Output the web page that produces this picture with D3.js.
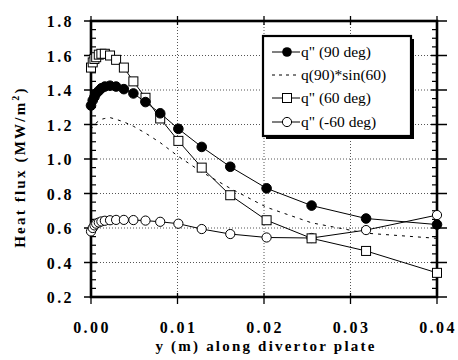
<!DOCTYPE html>
<html><head><meta charset="utf-8">
<script src="https://cdn.jsdelivr.net/npm/d3@7"></script>
<style>
body{margin:0;background:#fff;}
svg{display:block;}
.tick-lab{font-family:"Liberation Serif",serif;font-weight:bold;font-size:16px;letter-spacing:2.4px;fill:#000;}
.title{font-family:"Liberation Serif",serif;font-weight:bold;font-size:15px;letter-spacing:2.2px;fill:#000;}
.leg{font-family:"Liberation Serif",serif;font-size:15.5px;fill:#000;}
</style>
</head><body>
<svg id="c" width="458" height="360"></svg>
<script>
// ---- data ----
const yPos = [0, 0.0002, 0.0004, 0.0006, 0.0009, 0.0012, 0.0016, 0.0022, 0.0029, 0.0038, 0.0049, 0.0063, 0.0080, 0.0101, 0.0128, 0.0161, 0.0203, 0.0255, 0.0318, 0.0400];
const q90  = [1.31, 1.34, 1.36, 1.38, 1.395, 1.41, 1.42, 1.425, 1.42, 1.405, 1.38, 1.33, 1.265, 1.175, 1.07, 0.955, 0.83, 0.73, 0.655, 0.62];
const q90sin60 = [1.17, 1.19, 1.20, 1.21, 1.22, 1.23, 1.235, 1.24, 1.23, 1.215, 1.19, 1.15, 1.095, 1.015, 0.925, 0.83, 0.72, 0.63, 0.57, 0.54];
const q60  = [1.53, 1.56, 1.58, 1.59, 1.605, 1.61, 1.61, 1.60, 1.575, 1.53, 1.45, 1.355, 1.235, 1.105, 0.95, 0.79, 0.645, 0.54, 0.467, 0.34];
const qm60 = [0.58, 0.60, 0.615, 0.625, 0.632, 0.638, 0.642, 0.645, 0.647, 0.647, 0.646, 0.643, 0.636, 0.625, 0.594, 0.565, 0.545, 0.542, 0.588, 0.675];
const xTicks = [0.00, 0.01, 0.02, 0.03, 0.04];
const yTicks = [0.2, 0.4, 0.6, 0.8, 1.0, 1.2, 1.4, 1.6, 1.8];
const legendLabels = ['q" (90 deg)', 'q(90)*sin(60)', 'q" (60 deg)', 'q" (-60 deg)'];
const xTitle = "y (m) along divertor plate";

// ---- layout ----
const L = 91, R = 437, T = 21, B = 297;
const svg = d3.select("#c");
const x = d3.scaleLinear().domain([0, 0.04]).range([L, R]);
const y = d3.scaleLinear().domain([0.2, 1.8]).range([B, T]);

// grid (dotted)
const g = svg.append("g");
g.selectAll(".gx").data(xTicks.slice(1, -1)).enter().append("line")
  .attr("x1", d => x(d)).attr("x2", d => x(d)).attr("y1", T).attr("y2", B)
  .attr("stroke", "#555").attr("stroke-width", 1).attr("stroke-dasharray", "1,2");
g.selectAll(".gy").data(yTicks.slice(1, -1)).enter().append("line")
  .attr("y1", d => y(d)).attr("y2", d => y(d)).attr("x1", L).attr("x2", R)
  .attr("stroke", "#555").attr("stroke-width", 1).attr("stroke-dasharray", "1,2");

// minor y ticks every 0.05
const minorY = d3.range(0.25, 1.8, 0.05).filter(v => Math.abs(Math.round(v * 5) - v * 5) > 0.01);
svg.selectAll(".my").data(minorY).enter().append("line")
  .attr("x1", L).attr("x2", L + 5).attr("y1", d => y(d)).attr("y2", d => y(d))
  .attr("stroke", "#000").attr("stroke-width", 1.2);
svg.selectAll(".myr").data(minorY).enter().append("line")
  .attr("x1", R - 5).attr("x2", R).attr("y1", d => y(d)).attr("y2", d => y(d))
  .attr("stroke", "#000").attr("stroke-width", 1.2);
// major y ticks
svg.selectAll(".My").data(yTicks).enter().append("line")
  .attr("x1", L - 7).attr("x2", L + 6).attr("y1", d => y(d)).attr("y2", d => y(d))
  .attr("stroke", "#000").attr("stroke-width", 1.5);
svg.selectAll(".Myr").data(yTicks).enter().append("line")
  .attr("x1", R - 6).attr("x2", R + 10).attr("y1", d => y(d)).attr("y2", d => y(d))
  .attr("stroke", "#000").attr("stroke-width", 1.5);
// major x ticks
svg.selectAll(".Mx").data(xTicks).enter().append("line")
  .attr("x1", d => x(d)).attr("x2", d => x(d)).attr("y1", B - 4).attr("y2", B + 7)
  .attr("stroke", "#000").attr("stroke-width", 1.3);
svg.selectAll(".Mxt").data(xTicks).enter().append("line")
  .attr("x1", d => x(d)).attr("x2", d => x(d)).attr("y1", T - 5).attr("y2", T + 4)
  .attr("stroke", "#000").attr("stroke-width", 1.3);

// frame
svg.append("rect").attr("x", L).attr("y", T).attr("width", R - L).attr("height", B - T)
  .attr("fill", "none").attr("stroke", "#000").attr("stroke-width", 2.6);

// tick labels
svg.selectAll(".yl").data(yTicks).enter().append("text").attr("class", "tick-lab")
  .attr("x", 74).attr("y", d => y(d) + 6).attr("text-anchor", "end").text(d => d.toFixed(1));
svg.selectAll(".xl").data(xTicks).enter().append("text").attr("class", "tick-lab")
  .attr("x", d => x(d) + 1).attr("y", 333).attr("text-anchor", "middle").text(d => d.toFixed(2));

// titles
svg.append("text").attr("class", "title").attr("x", 266).attr("y", 351)
  .attr("text-anchor", "middle").text(xTitle);
const yt = svg.append("text").attr("class", "title")
  .attr("transform", "translate(25,167) rotate(-90)").attr("text-anchor", "middle");
yt.append("tspan").text("Heat flux (MW/m");
yt.append("tspan").attr("dy", -6).attr("font-size", "10px").text("2");
yt.append("tspan").attr("dy", 6).text(")");

// series
const pts = vals => yPos.map((p, i) => [p, vals[i]]);
const line = d3.line().x(d => x(d[0])).y(d => y(d[1]));
const lineG = svg.append("g");
lineG.append("path").datum(pts(q90sin60)).attr("d", line).attr("fill", "none")
  .attr("stroke", "#000").attr("stroke-width", 1).attr("stroke-dasharray", "3,5");
[qm60, q60, q90].forEach(s => {
  lineG.append("path").datum(pts(s)).attr("d", line).attr("fill", "none")
    .attr("stroke", "#000").attr("stroke-width", 1);
});
const mk = svg.append("g");
mk.selectAll(".cm").data(pts(qm60)).enter().append("circle")
  .attr("cx", d => x(d[0])).attr("cy", d => y(d[1])).attr("r", 4.6)
  .attr("fill", "#fff").attr("stroke", "#000").attr("stroke-width", 1);
mk.selectAll(".sq").data(pts(q60)).enter().append("rect")
  .attr("x", d => x(d[0]) - 4.5).attr("y", d => y(d[1]) - 4.5).attr("width", 9).attr("height", 9)
  .attr("fill", "#fff").attr("stroke", "#000").attr("stroke-width", 1);
mk.selectAll(".cf").data(pts(q90)).enter().append("circle")
  .attr("cx", d => x(d[0])).attr("cy", d => y(d[1])).attr("r", 4.8)
  .attr("fill", "#000").attr("stroke", "#000").attr("stroke-width", 1);

// legend
const lx = 263, ly = 36, lw = 148, lh = 100;
svg.append("rect").attr("x", lx + 3).attr("y", ly + 3).attr("width", lw).attr("height", lh)
  .attr("fill", "#000");
svg.append("rect").attr("x", lx).attr("y", ly).attr("width", lw).attr("height", lh)
  .attr("fill", "#fff").attr("stroke", "#000").attr("stroke-width", 2.2);
const rowsY = [52, 75, 98, 122];
const lg = svg.append("g");
legendLabels.forEach((lab, i) => {
  const ry = rowsY[i];
  const ln = lg.append("line").attr("x1", 272).attr("x2", 300).attr("y1", ry).attr("y2", ry)
    .attr("stroke", "#000").attr("stroke-width", 1);
  if (i === 1) ln.attr("stroke-dasharray", "3,4");
  if (i === 0) lg.append("circle").attr("cx", 287).attr("cy", ry).attr("r", 4.8).attr("fill", "#000");
  if (i === 2) lg.append("rect").attr("x", 282.5).attr("y", ry - 4.5).attr("width", 9).attr("height", 9)
    .attr("fill", "#fff").attr("stroke", "#000");
  if (i === 3) lg.append("circle").attr("cx", 287).attr("cy", ry).attr("r", 4.6)
    .attr("fill", "#fff").attr("stroke", "#000");
  lg.append("text").attr("class", "leg").attr("x", 301).attr("y", ry + 5).text(lab);
});
</script>
</body></html>
